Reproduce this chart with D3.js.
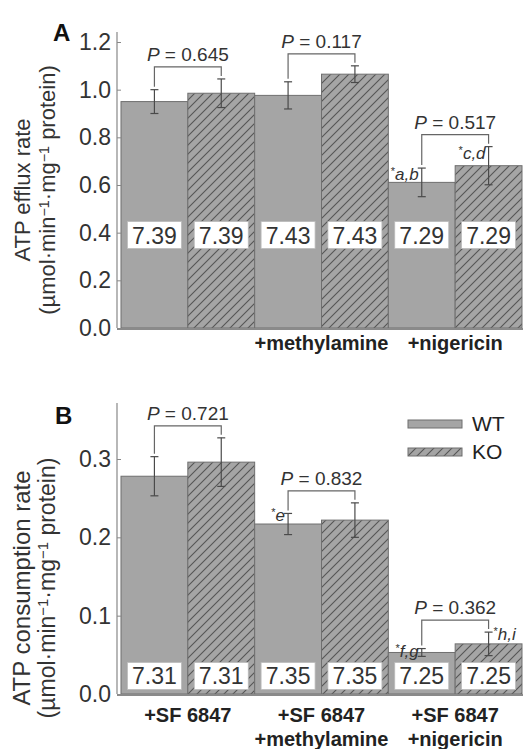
<!DOCTYPE html>
<html>
<head>
<meta charset="utf-8">
<script src="https://cdn.jsdelivr.net/npm/d3@7"></script>
<style>
  body { margin: 0; background: #fff; }
  text { font-family: "Liberation Sans", Arial, sans-serif; }
</style>
</head>
<body>
<div id="chart"></div>
<script>
// data
var genotypes = ["WT", "KO"];

var conditionsA = [[""], ["+methylamine"], ["+nigericin"]];
var effluxMean = [0.95, 0.985, 0.976, 1.065, 0.611, 0.681];
var effluxErr = [0.05, 0.06, 0.057, 0.035, 0.06, 0.08];
var effluxPH = ["7.39", "7.39", "7.43", "7.43", "7.29", "7.29"];
var effluxP = ["0.645", "0.117", "0.517"];
var effluxSig = ["", "", "", "", "a,b", "c,d"];
var effluxTicks = [0, 0.2, 0.4, 0.6, 0.8, 1.0, 1.2];

var conditionsB = [["+SF 6847"], ["+SF 6847", "+methylamine"], ["+SF 6847", "+nigericin"]];
var consMean = [0.278, 0.296, 0.217, 0.222, 0.053, 0.064];
var consErr = [0.025, 0.031, 0.0135, 0.022, 0.005, 0.015];
var consPH = ["7.31", "7.31", "7.35", "7.35", "7.25", "7.25"];
var consP = ["0.721", "0.832", "0.362"];
var consSig = ["", "", "e", "", "f,g", "h,i"];
var consTicks = [0, 0.1, 0.2, 0.3];

var width = 532, height = 749;

var svg = d3.select("#chart")
    .append("svg")
    .attr("width", width)
    .attr("height", height);

// hatch pattern for KO bars
var defs = svg.append("defs");
var pat = defs.append("pattern")
    .attr("id", "hatch")
    .attr("patternUnits", "userSpaceOnUse")
    .attr("width", 9)
    .attr("height", 9);
pat.append("rect").attr("width", 9).attr("height", 9).attr("fill", "#a5a5a5");
pat.append("path")
    .attr("d", "M0,9 L9,0 M-3,3 L3,-3 M6,12 L12,6")
    .attr("stroke", "#555")
    .attr("stroke-width", 1.1);

var barFill = function (i) { return i % 2 === 0 ? "#a5a5a5" : "url(#hatch)"; };

// shared x scale, 6 bars side by side
var x = d3.scaleBand()
    .domain(d3.range(6))
    .range([121, 522])
    .padding(0);

function drawPanel(p) {
    var g = svg.append("g");

    var y = d3.scaleLinear()
        .domain([0, p.ticks[p.ticks.length - 1]])
        .range([p.bottom, p.top]);

    // bars
    g.selectAll(".bar")
        .data(p.mean)
        .enter()
        .append("rect")
        .attr("x", function (d, i) { return x(i); })
        .attr("y", function (d) { return y(d); })
        .attr("width", x.bandwidth())
        .attr("height", function (d) { return y(0) - y(d); })
        .attr("fill", function (d, i) { return barFill(i); })
        .attr("stroke", "#6f6f6f")
        .attr("stroke-width", 1);

    // error bars
    var cx = function (i) { return x(i) + x.bandwidth() / 2; };
    p.mean.forEach(function (m, i) {
        var e = p.err[i];
        var eg = g.append("g").attr("stroke", "#4a4a4a").attr("stroke-width", 1.2);
        eg.append("line").attr("x1", cx(i)).attr("x2", cx(i)).attr("y1", y(m + e)).attr("y2", y(m - e));
        eg.append("line").attr("x1", cx(i) - 4).attr("x2", cx(i) + 4).attr("y1", y(m + e)).attr("y2", y(m + e));
        eg.append("line").attr("x1", cx(i) - 4).attr("x2", cx(i) + 4).attr("y1", y(m - e)).attr("y2", y(m - e));
    });

    // pH boxes
    p.ph.forEach(function (t, i) {
        var yy = y(p.phAt);
        g.append("rect")
            .attr("x", cx(i) - 27).attr("y", yy - 13.5)
            .attr("width", 54).attr("height", 27)
            .attr("fill", "#fff").attr("stroke", "#bbb").attr("stroke-width", 0.8);
        g.append("text")
            .attr("x", cx(i)).attr("y", yy + 8.5)
            .attr("text-anchor", "middle")
            .attr("font-size", "23px")
            .attr("fill", "#333")
            .text(t);
    });

    // P value brackets
    p.pvals.forEach(function (pv, k) {
        var a = k * 2, b = k * 2 + 1;
        var ya = y(p.mean[a] + p.err[a]), yb = y(p.mean[b] + p.err[b]);
        var top = Math.min(ya, yb) - 12;
        g.append("path")
            .attr("d", "M" + cx(a) + "," + (ya - 3) + "V" + top + "H" + cx(b) + "V" + (yb - 3))
            .attr("fill", "none")
            .attr("stroke", "#666")
            .attr("stroke-width", 1.2);
        var t = g.append("text")
            .attr("x", (cx(a) + cx(b)) / 2)
            .attr("y", top - 6)
            .attr("text-anchor", "middle")
            .attr("font-size", "19px")
            .attr("fill", "#333");
        t.append("tspan").attr("font-style", "italic").text("P");
        t.append("tspan").text(" = " + pv);
    });

    // significance letters
    p.sig.forEach(function (s, i) {
        if (!s) return;
        var yc = y(p.mean[i] + p.err[i]);
        var right = (i === 5 && p.name === "B");
        var t = g.append("text")
            .attr("x", right ? cx(i) + 5 : cx(i) - 3)
            .attr("y", yc + p.sigDy)
            .attr("text-anchor", right ? "start" : "end")
            .attr("font-size", "17px")
            .attr("fill", "#333");
        t.append("tspan").attr("font-size", "11px").attr("dy", -5).text("*");
        t.append("tspan").attr("font-style", "italic").attr("dy", 5).text(s);
    });

    // y axis
    var ax = g.append("g")
        .attr("transform", "translate(117,0)")
        .call(d3.axisLeft(y)
            .tickValues(p.ticks)
            .tickFormat(d3.format(".1f"))
            .tickSize(-4)
            .tickPadding(6));
    ax.select(".domain").remove();
    ax.selectAll(".tick line").attr("stroke", "#888");
    ax.selectAll(".tick text")
        .attr("font-size", "23px")
        .attr("fill", "#333")
        .attr("font-family", "Liberation Sans, Arial, sans-serif");
    g.append("line")
        .attr("x1", 117).attr("x2", 117)
        .attr("y1", y(0)).attr("y2", p.axisTop)
        .attr("stroke", "#888").attr("stroke-width", 1.2);
    // baseline
    g.append("line")
        .attr("x1", 117).attr("x2", 523)
        .attr("y1", y(0) + 1).attr("y2", y(0) + 1)
        .attr("stroke", "#8a8a8a").attr("stroke-width", 2);

    // group labels
    p.conds.forEach(function (lines, k) {
        var gx = x(k * 2) + x.bandwidth();
        lines.forEach(function (ln, j) {
            g.append("text")
                .attr("x", gx)
                .attr("y", y(0) + p.condDy + j * 24)
                .attr("text-anchor", "middle")
                .attr("font-size", "20px")
                .attr("font-weight", "bold")
                .attr("fill", "#222")
                .text(ln);
        });
    });

    // y labels
    g.append("text")
        .attr("transform", "translate(30," + p.labelY + ") rotate(-90)")
        .attr("text-anchor", "middle")
        .attr("font-size", p.labelSize)
        .attr("fill", "#333")
        .text(p.label);
    var l2 = g.append("text")
        .attr("transform", "translate(55," + p.labelY + ") rotate(-90)")
        .attr("text-anchor", "middle")
        .attr("font-size", p.unitSize)
        .attr("fill", "#333");
    l2.append("tspan").text("(µmol·min");
    l2.append("tspan").attr("font-size", "0.65em").attr("dy", "-0.45em").text("−1");
    l2.append("tspan").attr("dy", "0.3em").text("·mg");
    l2.append("tspan").attr("font-size", "0.65em").attr("dy", "-0.45em").text("−1");
    l2.append("tspan").attr("dy", "0.3em").text(" protein)");

    // panel letter
    g.append("text")
        .attr("x", p.letterX).attr("y", p.letterY)
        .attr("font-size", "24px")
        .attr("font-weight", "bold")
        .attr("fill", "#111")
        .text(p.name);
}

drawPanel({
    name: "A", mean: effluxMean, err: effluxErr, ph: effluxPH, phAt: 0.39,
    pvals: effluxP, sig: effluxSig, ticks: effluxTicks, conds: conditionsA,
    top: 42, bottom: 328, axisTop: 32, sigDy: 12, condDy: 22,
    label: "ATP efflux rate", labelSize: "22px", unitSize: "22px", labelY: 190,
    letterX: 53, letterY: 41
});

drawPanel({
    name: "B", mean: consMean, err: consErr, ph: consPH, phAt: 0.023,
    pvals: consP, sig: consSig, ticks: consTicks, conds: conditionsB,
    top: 459, bottom: 694, axisTop: 403, sigDy: 8, condDy: 28,
    label: "ATP consumption rate", labelSize: "24px", unitSize: "23px", labelY: 588,
    letterX: 55, letterY: 424
});

// legend
var leg = svg.append("g");
genotypes.forEach(function (gname, i) {
    var ly = 420 + i * 28;
    leg.append("rect")
        .attr("x", 408).attr("y", ly)
        .attr("width", 54).attr("height", 8)
        .attr("fill", barFill(i))
        .attr("stroke", "#6f6f6f").attr("stroke-width", 1);
    leg.append("text")
        .attr("x", 472).attr("y", ly + 11)
        .attr("font-size", "21px")
        .attr("fill", "#222")
        .text(gname);
});
</script>
</body>
</html>
